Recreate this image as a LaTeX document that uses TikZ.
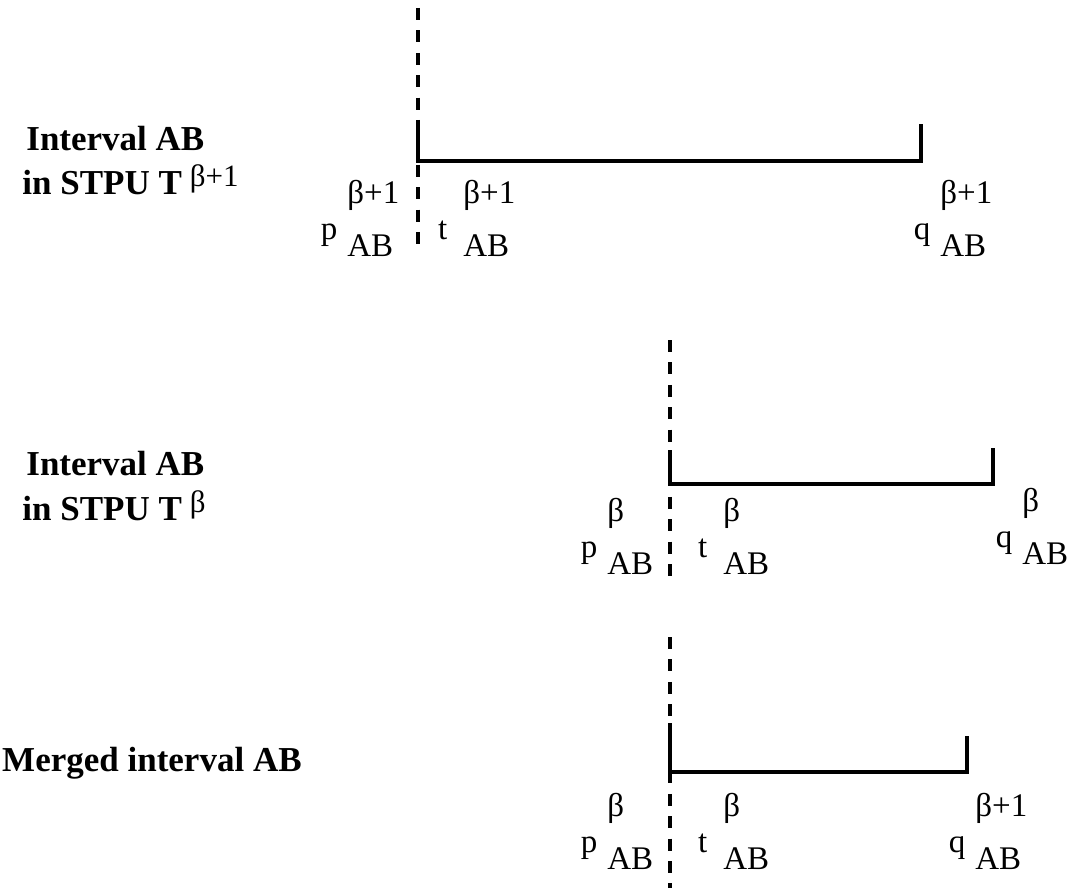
\documentclass[tikz,border=0pt]{standalone}
\usepackage{fontspec}
\setmainfont{Liberation Serif}
\usepackage{tikz}
\newcommand{\ablabel}[3][5pt]{\llap{#2\hspace{#1}}\rlap{\raisebox{18pt}{#3}}\raisebox{-8.5pt}{AB}}
\newcommand{\supsym}[1]{{\mdseries\fontsize{15.5}{18}\selectfont\raisebox{4pt}{#1}}}

\begin{document}
\begin{tikzpicture}[x=0.5pt, y=-0.5pt,
  title/.style={font=\fontsize{17.5}{21}\selectfont\bfseries, inner sep=0pt},
  sym/.style={font=\fontsize{16.5}{19}\selectfont, inner sep=0pt, anchor=base west},
  guide/.style={line width=2pt, dash pattern=on 6pt off 5.2pt},
  ival/.style={line width=1.7pt}]
  \useasboundingbox (0,0) rectangle (1072,888);

  % interval AB in T^{beta+1}
  \node[title, anchor=base west] (h1a) at (26,151) {Interval AB};
  \node[title, anchor=base west] (h1b) at (22,195) {in STPU T\hspace{4pt}\supsym{β+1}};
  \coordinate (g1top) at (418,8);
  \coordinate (g1bot) at (418,252);
  \coordinate (a1) at (418,123);
  \coordinate (c1) at (418,161);
  \coordinate (d1) at (921,161);
  \coordinate (b1) at (921,124);
  \draw[guide] (g1top) -- (g1bot);
  \draw[ival] (a1) -- (c1) -- (d1) -- (b1);
  \node[sym] (p1) at (347,240) {\ablabel{p}{β+1}};
  \node[sym] (t1) at (463,240) {\ablabel[8pt]{t}{β+1}};
  \node[sym] (q1) at (940,240) {\ablabel{q}{β+1}};

  % interval AB in T^{beta}
  \node[title, anchor=base west] (h2a) at (26,475) {Interval AB};
  \node[title, anchor=base west] (h2b) at (22,520) {in STPU T\hspace{4pt}\supsym{β}};
  \coordinate (g2top) at (670,340);
  \coordinate (g2bot) at (670,584);
  \coordinate (a2) at (670,450);
  \coordinate (c2) at (670,484);
  \coordinate (d2) at (993,484);
  \coordinate (b2) at (993,448);
  \draw[guide] (g2top) -- (g2bot);
  \draw[ival] (a2) -- (c2) -- (d2) -- (b2);
  \node[sym] (p2) at (607,557) {\ablabel{p}{β}};
  \node[sym] (t2) at (723,557) {\ablabel[8pt]{t}{β}};
  \node[sym] (q2) at (1022,547) {\ablabel{q}{β}};

  % merged interval
  \node[title, anchor=base east] (h3) at (302,771) {Merged interval AB};
  \coordinate (g3top) at (670,637);
  \coordinate (g3bot) at (670,890);
  \coordinate (a3) at (670,723);
  \coordinate (c3) at (670,772);
  \coordinate (d3) at (967,772);
  \coordinate (b3) at (967,736);
  \draw[guide] (g3top) -- (g3bot);
  \draw[ival] (a3) -- (c3) -- (d3) -- (b3);
  \node[sym] (p3) at (607,852) {\ablabel{p}{β}};
  \node[sym] (t3) at (723,852) {\ablabel[8pt]{t}{β}};
  \node[sym] (q3) at (975,852) {\ablabel{q}{β+1}};
\end{tikzpicture}
\end{document}
